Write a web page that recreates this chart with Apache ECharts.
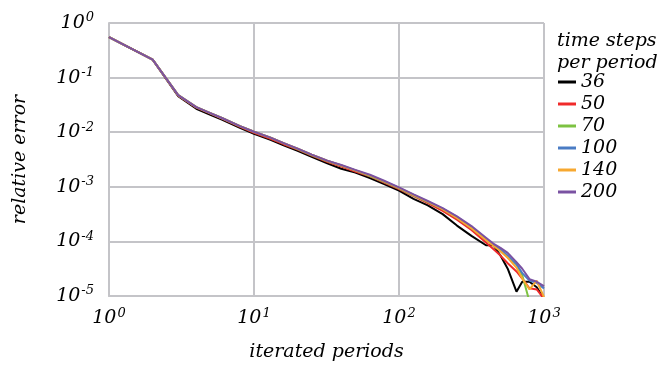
<!DOCTYPE html>
<html>
<head>
<meta charset="utf-8">
<script src="https://cdn.jsdelivr.net/npm/echarts@6/dist/echarts.min.js"></script>
<style>
  html, body { margin: 0; padding: 0; background: #fff; }
  #chart { width: 668px; height: 365px; }
</style>
</head>
<body>
<div id="chart"></div>
<script>
(function () {
    // iterated periods (x) shared by all series
    var periods = [1, 2, 3, 4, 5, 6, 8, 10, 13, 16, 20, 25, 32, 40, 50, 63, 79, 100,
        126, 158, 200, 251, 316, 398, 447, 501, 562, 646, 708, 794, 891, 1000];

    var stepNames = ['36', '50', '70', '100', '140', '200'];
    var stepColors = ['#000000', '#f02a2a', '#7dc242', '#4a7cc4', '#f7a830', '#7a52a2'];

    // relative error per number of time steps per period
    var err36 = [5.50e-1, 2.14e-1, 4.57e-2, 2.69e-2, 2.09e-2, 1.70e-2, 1.20e-2, 9.33e-3, 7.24e-3, 5.75e-3,
        4.57e-3, 3.55e-3, 2.69e-3, 2.14e-3, 1.82e-3, 1.45e-3, 1.12e-3, 8.51e-4, 6.03e-4, 4.57e-4,
        3.16e-4, 1.95e-4, 1.26e-4, 8.51e-5, 8.51e-5, 5.50e-5, 3.16e-5, 1.20e-5, 1.82e-5, 1.82e-5,
        1.45e-5, 8.9e-6];
    var err50 = [5.50e-1, 2.14e-1, 4.68e-2, 2.82e-2, 2.19e-2, 1.78e-2, 1.26e-2, 9.77e-3, 7.59e-3, 6.03e-3,
        4.79e-3, 3.72e-3, 2.88e-3, 2.34e-3, 1.91e-3, 1.55e-3, 1.20e-3, 9.12e-4, 6.76e-4, 5.01e-4,
        3.63e-4, 2.51e-4, 1.62e-4, 9.55e-5, 7.24e-5, 5.50e-5, 3.98e-5, 2.82e-5, 2.09e-5, 1.38e-5,
        1.32e-5, 8.9e-6];
    var err70 = [5.50e-1, 2.14e-1, 4.79e-2, 2.88e-2, 2.24e-2, 1.82e-2, 1.29e-2, 1.02e-2, 7.94e-3, 6.31e-3,
        4.90e-3, 3.80e-3, 2.95e-3, 2.45e-3, 2.00e-3, 1.58e-3, 1.23e-3, 9.33e-4, 6.92e-4, 5.25e-4,
        3.89e-4, 2.69e-4, 1.74e-4, 1.07e-4, 8.51e-5, 6.76e-5, 5.13e-5, 3.80e-5, 2.40e-5, 7.9e-6,
        5.0e-6, 5.0e-6];
    var err100 = [5.50e-1, 2.14e-1, 4.79e-2, 2.88e-2, 2.24e-2, 1.82e-2, 1.29e-2, 1.02e-2, 7.94e-3, 6.31e-3,
        5.01e-3, 3.89e-3, 3.02e-3, 2.45e-3, 2.00e-3, 1.62e-3, 1.26e-3, 9.55e-4, 7.08e-4, 5.37e-4,
        3.98e-4, 2.82e-4, 1.82e-4, 1.12e-4, 8.71e-5, 7.08e-5, 5.50e-5, 3.80e-5, 2.63e-5, 1.91e-5,
        1.74e-5, 1.38e-5];
    var err140 = [5.50e-1, 2.14e-1, 4.79e-2, 2.88e-2, 2.24e-2, 1.82e-2, 1.29e-2, 1.02e-2, 7.94e-3, 6.31e-3,
        5.01e-3, 3.89e-3, 3.02e-3, 2.45e-3, 2.00e-3, 1.62e-3, 1.26e-3, 9.55e-4, 7.08e-4, 5.37e-4,
        3.89e-4, 2.69e-4, 1.74e-4, 1.07e-4, 8.32e-5, 6.61e-5, 5.01e-5, 3.31e-5, 2.09e-5, 1.32e-5,
        1.91e-5, 9.5e-6];
    var err200 = [5.50e-1, 2.14e-1, 4.79e-2, 2.88e-2, 2.24e-2, 1.82e-2, 1.29e-2, 1.02e-2, 7.94e-3, 6.31e-3,
        5.01e-3, 3.89e-3, 3.02e-3, 2.51e-3, 2.04e-3, 1.66e-3, 1.29e-3, 9.77e-4, 7.24e-4, 5.50e-4,
        4.07e-4, 2.88e-4, 1.91e-4, 1.17e-4, 9.12e-5, 7.59e-5, 6.17e-5, 4.17e-5, 3.16e-5, 2.04e-5,
        1.82e-5, 1.51e-5];

    var errors = [err36, err50, err70, err100, err140, err200];

    var font = 'DejaVu Serif';
    var gridColor = '#c4c4c8';

    function powLabel(v) {
        var e = Math.round(Math.log10(v));
        return '{b|10}{s|' + e + '}';
    }
    var labelRich = {
        b: { fontFamily: font, fontStyle: 'italic', fontSize: 19, color: '#000' },
        s: { fontFamily: font, fontStyle: 'italic', fontSize: 13, color: '#000', verticalAlign: 'top', padding: [0, 0, 10, 1] }
    };

    var series = stepNames.map(function (name, i) {
        return {
            name: name,
            type: 'line',
            symbol: 'none',
            color: stepColors[i],
            lineStyle: { width: 2, color: stepColors[i] },
            data: periods.map(function (p, j) { return [p, errors[i][j]]; })
        };
    });

    var option = {
        animation: false,
        title: {
            text: 'time steps\nper period',
            left: 552,
            top: 25,
            textStyle: {
                fontFamily: font,
                fontStyle: 'italic',
                fontWeight: 'normal',
                fontSize: 19,
                lineHeight: 22,
                color: '#000'
            }
        },
        legend: {
            orient: 'vertical',
            left: 553,
            top: 67,
            icon: 'rect',
            itemWidth: 18,
            itemHeight: 3,
            itemGap: 2,
            selectedMode: false,
            data: stepNames,
            textStyle: {
                fontFamily: font,
                fontStyle: 'italic',
                fontSize: 19,
                color: '#000',
                lineHeight: 20
            }
        },
        grid: {
            left: 109,
            right: 124,
            top: 23,
            bottom: 69,
            outerBoundsMode: 'none'
        },
        xAxis: {
            type: 'log',
            logBase: 10,
            min: 1,
            max: 1000,
            name: 'iterated periods',
            nameLocation: 'middle',
            nameGap: 47,
            nameTextStyle: { fontFamily: font, fontStyle: 'italic', fontSize: 19, color: '#000' },
            axisLine: { show: true, lineStyle: { color: gridColor, width: 2 } },
            axisTick: { show: false },
            splitLine: { show: true, lineStyle: { color: gridColor, width: 2 } },
            axisLabel: { margin: 11, formatter: powLabel, rich: labelRich }
        },
        yAxis: {
            type: 'log',
            logBase: 10,
            min: 1e-5,
            max: 1,
            name: 'relative error',
            nameLocation: 'middle',
            nameGap: 79,
            nameTextStyle: { fontFamily: font, fontStyle: 'italic', fontSize: 19, color: '#000' },
            axisLine: { show: true, lineStyle: { color: gridColor, width: 2 } },
            axisTick: { show: false },
            splitLine: { show: true, lineStyle: { color: gridColor, width: 2 } },
            axisLabel: { margin: 15, formatter: powLabel, rich: labelRich }
        },
        series: series
    };

    var chart = echarts.init(document.getElementById('chart'));
    chart.setOption(option);
})();
</script>
</body>
</html>
